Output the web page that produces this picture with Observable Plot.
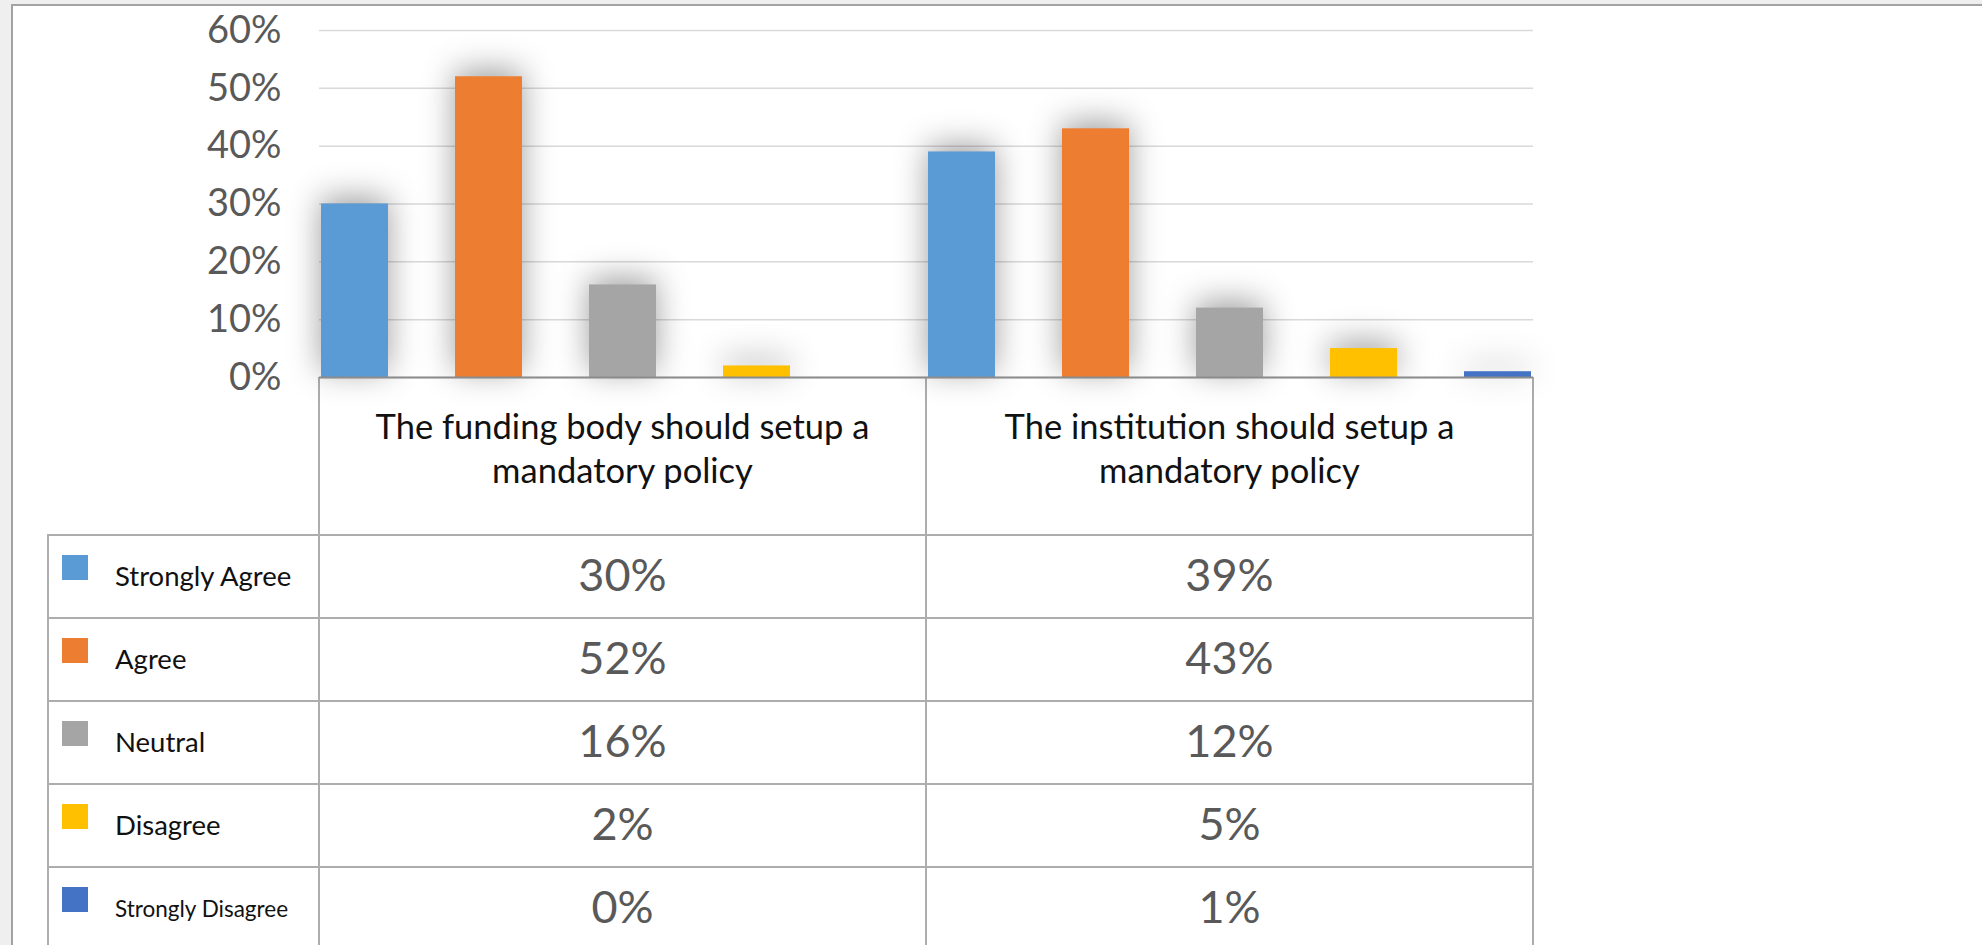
<!DOCTYPE html>
<html>
<head>
<meta charset="utf-8">
<script src="https://cdn.jsdelivr.net/npm/d3@7"></script>
<script src="https://cdn.jsdelivr.net/npm/@observablehq/plot@0.6"></script>
<style>
  html, body { margin: 0; padding: 0; width: 1982px; height: 945px; overflow: hidden; background: #efefef; font-family: Lato, "Open Sans", sans-serif; }
  #frame { position: absolute; left: 11px; top: 4px; width: 2100px; height: 1100px; background: #fff; border: 2px solid #a3a3a3; box-sizing: border-box; }
  #table { position: absolute; left: 0; top: 0; width: 1982px; height: 945px; }
  #chart { position: absolute; left: 0; top: 0; }
  .abs { position: absolute; box-sizing: border-box; }
  .hline { background: #adadad; height: 2px; }
  .vline { background: #adadad; width: 2px; }
  .head { text-align: center; font-size: 34.5px; line-height: 44px; color: #111; white-space: nowrap; }
  .val { text-align: center; font-size: 45px; line-height: 45px; color: #595959; }
  .lab { color: #111; line-height: 1; white-space: nowrap; }
</style>
</head>
<body>
<div id="frame"></div>
<div id="table"></div>
<div id="chart"></div>
<script>
// ---- data ----
const categoryLines = [
  ["The funding body should setup a", "mandatory policy"],
  ["The institution should setup a", "mandatory policy"]
];
const categories = categoryLines.map(l => l.join(" "));
const series = ["Strongly Agree", "Agree", "Neutral", "Disagree", "Strongly Disagree"];
const fundingValues = [0.30, 0.52, 0.16, 0.02, 0.00];
const institutionValues = [0.39, 0.43, 0.12, 0.05, 0.01];
const yTicks = [0, 0.1, 0.2, 0.3, 0.4, 0.5, 0.6];

// ---- styles ----
const colors = ["#5B9BD5", "#ED7D31", "#A5A5A5", "#FFC000", "#4472C4"];
const legendFontSizes = [27.5, 27.5, 27.5, 27.5, 22.5];

const valuesByCategory = [fundingValues, institutionValues];
const data = categories.flatMap((c, i) => series.map((s, j) => ({category: c, series: s, value: valuesByCategory[i][j]})));

const W = 1982, H = 945;
const plot = Plot.plot({
  width: W, height: H,
  marginLeft: 318, marginRight: 449, marginTop: 30, marginBottom: 568,
  style: {background: "transparent", fontFamily: "Lato, sans-serif", fontSize: "38px", color: "#595959", overflow: "visible"},
  fx: {domain: categories, padding: 0, axis: null, label: null},
  x: {domain: series, paddingInner: 0.5, paddingOuter: 0, axis: null},
  y: {domain: [0, 0.6], axis: null},
  color: {domain: series, range: colors},
  marks: [
    Plot.gridY(yTicks, {stroke: "#d9d9d9", strokeOpacity: 1, strokeWidth: 1.5}),
    Plot.axisY(yTicks, {tickSize: 0, tickPadding: 38, tickFormat: d3.format(".0%"), label: null, fill: "#595959", fontSize: 38}),
    Plot.barY(data, {fx: "category", x: "series", y: "value", fill: "series", inset: 0}),
    Plot.ruleY([0], {stroke: "#8c8c8c", strokeWidth: 2})
  ]
});
plot.querySelectorAll('g[aria-label="bar"]').forEach(g => {
  g.style.filter = "drop-shadow(0px -6px 16px rgba(0,0,0,0.38))";
});
document.getElementById("chart").appendChild(plot);

// ---- data table beneath the chart, aligned with the plot's scales ----
const fx = plot.scale("fx");
const y = plot.scale("y");
const bw = fx.bandwidth;
const y0 = y.apply(0);
const colLefts = categories.map(c => fx.apply(c));
const plotRight = Math.max(...colLefts) + bw;
const legendLeft = 48;
const headerH = 158, rowH = 83;
const table = document.getElementById("table");
function add(cls, css) {
  const d = document.createElement("div");
  d.className = "abs " + cls;
  Object.assign(d.style, css);
  table.appendChild(d);
  return d;
}
// header
categoryLines.forEach((lines, i) => {
  const t = add("head", {left: colLefts[i] + "px", top: (y0 + 27) + "px", width: bw + "px"});
  lines.forEach((l, k) => { if (k) t.appendChild(document.createElement("br")); t.appendChild(document.createTextNode(l)); });
});
// rows
series.forEach((s, r) => {
  const top = y0 + headerH + r * rowH;
  add("hline", {left: legendLeft + "px", top: (top - 1) + "px", width: (plotRight - legendLeft + 1) + "px"});
  add("", {left: (legendLeft + 14) + "px", top: (top + 20) + "px", width: "26px", height: "25px", background: colors[r]});
  const fs = legendFontSizes[r];
  const lab = add("lab", {left: (legendLeft + 67) + "px", top: (top + 51 - 0.87 * fs) + "px", fontSize: fs + "px"});
  lab.textContent = s;
  categories.forEach((c, i) => {
    const v = add("val", {left: colLefts[i] + "px", top: (top + 17) + "px", width: bw + "px"});
    v.textContent = d3.format(".0%")(valuesByCategory[i][r]);
  });
});
// vertical lines
add("vline", {left: (legendLeft - 1) + "px", top: (y0 + headerH - 1) + "px", height: (H - y0 - headerH + 1) + "px"});
[...colLefts, plotRight].forEach(x => add("vline", {left: (x - 1) + "px", top: y0 + "px", height: (H - y0) + "px"}));
</script>
</body>
</html>
